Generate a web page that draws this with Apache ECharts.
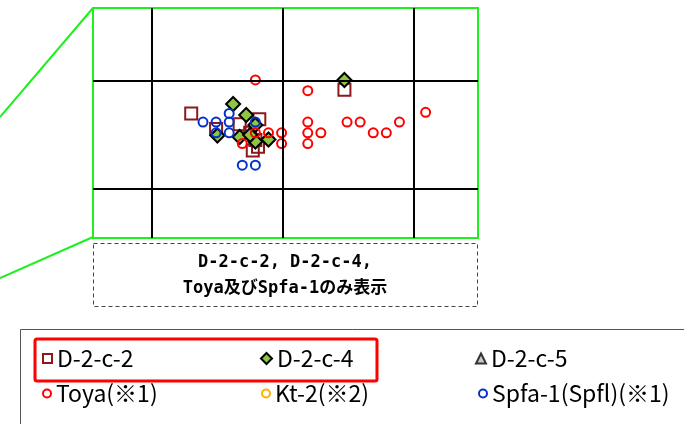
<!DOCTYPE html>
<html>
<head>
<meta charset="utf-8">
<script src="https://cdn.jsdelivr.net/npm/echarts@6/dist/echarts.min.js"></script>
<style>
  html, body { margin: 0; padding: 0; background: #fff; }
  #chart { width: 684px; height: 424px; }
</style>
</head>
<body>
<div id="chart"></div>
<script>
// 系列名
const seriesNames = ['D-2-c-2', 'D-2-c-4', 'D-2-c-5', 'Toya(※1)', 'Kt-2(※2)', 'Spfa-1(Spfl)(※1)']

// 拡大図の範囲と格子線
const xRange = [0.55, 3.49]
const yRange = [0.546, 2.676]
const xGrid = [1, 2, 3]
const yGrid = [1, 2]

// D-2-c-2 (□)
const d2c2 = [
  [1.30, 1.70], [2.47, 1.92], [1.82, 1.645], [1.67, 1.60], [1.49, 1.556],
  [1.75, 1.52], [1.77, 1.356], [1.81, 1.392], [1.79, 1.454]
]
// D-2-c-4 (◆)
const d2c4 = [
  [2.47, 2.009], [1.62, 1.787], [1.72, 1.685], [1.79, 1.593], [1.50, 1.495],
  [1.67, 1.481], [1.79, 1.44], [1.89, 1.458], [1.75, 1.50]
]
// D-2-c-5 (△) 拡大範囲にはなし
const d2c5 = []
// Toya (○赤)
const toya = [
  [1.79, 2.01], [2.19, 1.91], [3.09, 1.71], [2.19, 1.62], [2.49, 1.62],
  [2.59, 1.62], [2.89, 1.62], [1.79, 1.52], [1.89, 1.52], [1.99, 1.52],
  [2.19, 1.52], [2.29, 1.52], [2.69, 1.52], [2.79, 1.52], [1.69, 1.42],
  [1.99, 1.42], [2.19, 1.42]
]
// Kt-2 (○橙) 拡大範囲にはなし
const kt2 = []
// Spfa-1 (○青)
const spfa1 = [
  [1.39, 1.62], [1.49, 1.62], [1.59, 1.70], [1.59, 1.62], [1.49, 1.52],
  [1.59, 1.52], [1.79, 1.62], [1.69, 1.22], [1.79, 1.22]
]

const legendFont = {
  fontSize: 23,
  fontFamily: 'Noto Sans CJK JP',
  color: '#000'
}

function legendItem (name, left, top, size, pad) {
  return {
    data: [name],
    left: left,
    top: top,
    padding: 0,
    itemWidth: size,
    itemHeight: size,
    selectedMode: false,
    textStyle: Object.assign({padding: pad}, legendFont)
  }
}

const chart = echarts.init(document.getElementById('chart'))
const option = {
  animation: false,
  backgroundColor: '#fff',
  grid: {
    left: 93,
    top: 8,
    width: 385,
    height: 230,
    show: true,
    borderColor: '#1ef01e',
    borderWidth: 2,
    backgroundColor: 'transparent'
  },
  xAxis: {
    type: 'value',
    min: xRange[0],
    max: xRange[1],
    axisLine: {show: false},
    axisTick: {show: false},
    axisLabel: {show: false},
    splitLine: {show: false}
  },
  yAxis: {
    type: 'value',
    min: yRange[0],
    max: yRange[1],
    axisLine: {show: false},
    axisTick: {show: false},
    axisLabel: {show: false},
    splitLine: {show: false}
  },
  legend: [
    legendItem(seriesNames[0], 42, 347, 9, [4, 0, 0, 0]),
    legendItem(seriesNames[1], 260, 347, 11, [4, 0, 0, 0]),
    legendItem(seriesNames[2], 475, 347, 10, [4, 0, 0, 0]),
    legendItem(seriesNames[3], 42, 382, 8, [12, 0, 0, 0]),
    legendItem(seriesNames[4], 261, 382, 8, [12, 0, 0, 0]),
    legendItem(seriesNames[5], 478, 382, 8, [12, 0, 0, 0])
  ],
  series: [
    {
      name: 'grid',
      type: 'scatter',
      data: [],
      silent: true,
      markLine: {
        silent: true,
        symbol: 'none',
        label: {show: false},
        lineStyle: {color: '#000', width: 2, type: 'solid'},
        data: xGrid.map(v => ({xAxis: v})).concat(yGrid.map(v => ({yAxis: v})))
      }
    },
    {
      name: seriesNames[0],
      type: 'scatter',
      symbol: 'rect',
      symbolSize: 12,
      itemStyle: {color: 'rgba(255,255,255,0)', borderColor: '#8b1a1a', borderWidth: 2, opacity: 1},
      data: d2c2
    },
    {
      name: seriesNames[1],
      type: 'scatter',
      symbol: 'diamond',
      symbolSize: 14,
      itemStyle: {color: '#8dc641', borderColor: '#000', borderWidth: 2, opacity: 1},
      data: d2c4
    },
    {
      name: seriesNames[2],
      type: 'scatter',
      symbol: 'triangle',
      symbolSize: 10,
      itemStyle: {color: '#c8c8c8', borderColor: '#333', borderWidth: 1.5, opacity: 1},
      data: d2c5
    },
    {
      name: seriesNames[3],
      type: 'scatter',
      symbol: 'circle',
      symbolSize: 9,
      itemStyle: {color: 'rgba(255,255,255,0)', borderColor: '#ff0000', borderWidth: 2, opacity: 1},
      data: toya
    },
    {
      name: seriesNames[4],
      type: 'scatter',
      symbol: 'circle',
      symbolSize: 9,
      itemStyle: {color: 'rgba(255,255,255,0)', borderColor: '#ffb000', borderWidth: 2, opacity: 1},
      data: kt2
    },
    {
      name: seriesNames[5],
      type: 'scatter',
      symbol: 'circle',
      symbolSize: 9,
      itemStyle: {color: 'rgba(255,255,255,0)', borderColor: '#0033cc', borderWidth: 2, opacity: 1},
      data: spfa1
    }
  ],
  graphic: [
    // 全体図への引き出し線
    {type: 'line', shape: {x1: 93, y1: 8, x2: 0, y2: 117}, style: {stroke: '#1ef01e', lineWidth: 2}},
    {type: 'line', shape: {x1: 93, y1: 237, x2: 0, y2: 278}, style: {stroke: '#1ef01e', lineWidth: 2}},
    // 注記の点線枠
    {type: 'rect', shape: {x: 93.5, y: 243.5, width: 384, height: 63}, style: {fill: 'none', stroke: '#444', lineWidth: 1, lineDash: [4, 3]}},
    {
      type: 'text', x: 285, y: 263,
      style: {text: 'D-2-c-2, D-2-c-4,', textAlign: 'center', textVerticalAlign: 'middle', fontSize: 17, fontWeight: 'bold', fontFamily: "'DejaVu Sans Mono', 'Noto Sans CJK JP'", fill: '#000'}
    },
    {
      type: 'text', x: 285, y: 289,
      style: {text: 'Toya及びSpfa-1のみ表示', textAlign: 'center', textVerticalAlign: 'middle', fontSize: 17, fontWeight: 'bold', fontFamily: "'DejaVu Sans Mono', 'Noto Sans CJK JP'", fill: '#000'}
    },
    // 凡例枠
    {type: 'rect', z: -1, shape: {x: 20.5, y: 329.5, width: 700, height: 120}, style: {fill: '#fff', stroke: '#555', lineWidth: 1}},
    {type: 'rect', shape: {x: 35, y: 339, width: 342, height: 42, r: 2}, style: {fill: 'none', stroke: '#ff0000', lineWidth: 3}}
  ]
}
chart.setOption(option)
window.addEventListener('resize', () => {
  chart.resize()
})
</script>
</body>
</html>
